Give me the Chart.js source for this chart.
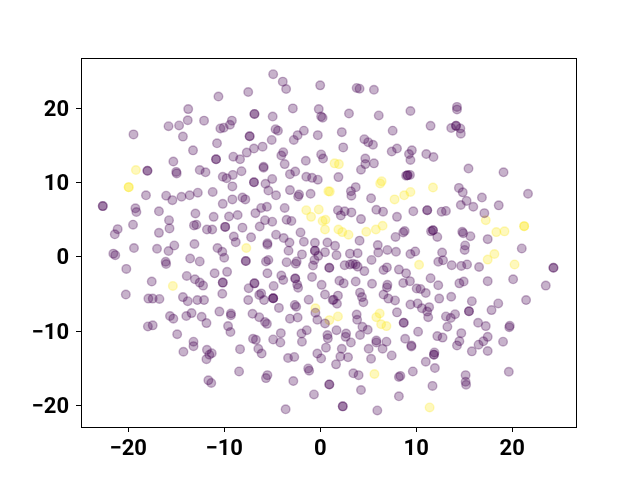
<!DOCTYPE html>
<html><head><meta charset="utf-8">
<style>html,body{margin:0;padding:0;background:#fff}#c{display:block}</style>
<script src="https://cdn.jsdelivr.net/npm/chart.js@4"></script>
</head><body><div style="width:640px;height:480px"><canvas id="c" width="640" height="480"></canvas></div>
<script>
const xTicks=[-20,-10,0,10,20];
const yTicks=[-20,-10,0,10,20];
const purple=[[-4.9,24.6],[-3.9,23.6],[-3.55,22.6],[0,23.1],[-7.5,22.2],[-10.6,21.6],[-13.75,19.9],[-6.85,19.25],[-6.85,19.25],[-2.85,20],[-0.15,19.9],[0.25,18.75],[0.1,18.9],[-4.95,18.9],[-13.8,18.4],[-12.1,18.35],[-15.8,17.6],[-14.7,17.7],[-9.2,18.35],[-9.4,17.8],[-10.05,17.4],[-10.4,17.3],[-4.65,17.2],[-4.4,17],[-1.7,17],[-19.45,16.5],[-14.3,16.2],[-7.35,16.25],[-7.35,16.25],[-2.35,16.4],[-2.75,15.75],[-0.25,16.4],[-5.05,15.75],[-10.75,15.3],[-13.25,14.35],[-6,14.85],[-6.9,14.6],[-7.65,14.05],[-3.85,14.1],[-4.05,13.65],[0.1,13.8],[0.3,13.25],[-9.05,13.5],[-8.35,13.15],[-10.85,13.15],[-10.85,13.15],[-1.5,12.95],[-15.3,12.85],[-3.7,12.5],[-5.9,12],[-5.9,12.15],[-18,11.6],[-18,11.6],[-15,11.45],[-14.95,11.25],[-12.55,11.7],[-11.95,11.4],[-8.2,11.55],[-2.6,11.5],[-3.15,11.15],[-9.1,11.05],[-10.15,10.8],[-9.75,10.6],[-1.45,10.8],[-0.85,10.65],[-0.25,10.4],[-5,10.5],[-6.9,10.05],[-6.9,10.05],[-5.7,9.85],[-9.15,9.5],[-5.4,8.95],[-3.15,9],[-12.75,8.65],[-11.2,8.75],[-13.6,8.3],[-14.45,8.1],[-16.05,8.25],[-15.4,7.65],[-18.15,8.3],[-4.6,8.3],[-2.2,8.4],[-2.3,8.15],[-1,8.5],[-8.1,8],[-7.8,7.75],[-9.15,7.75],[-10.15,7.15],[-22.65,6.85],[-22.65,6.85],[-5.55,6.75],[-6.15,6.6],[-3.7,6.6],[-19.25,6.55],[-19.15,6.05],[-16.8,6.15],[-6.75,5.9],[-8.6,5.65],[-13,5.85],[-9.5,5.45],[-11.1,5.4],[-15.75,4.95],[-5.75,4.95],[-5,4.75],[-3.5,5],[-3,4.85],[-19.5,4.35],[-12.9,4.35],[-13.15,4.25],[-9.9,4.05],[-9.9,4.05],[-6.3,4.1],[-8.1,3.95],[-15.7,3.85],[-11.25,3.7],[-11.8,3.7],[-21.1,3.75],[-21.4,3.05],[-16.8,3.25],[-2.05,3.3],[-4.6,3],[-9,2.75],[-7.2,2.65],[-3.8,2.55],[-8.8,2],[-3.2,1.95],[-5.5,1.65],[-5.5,1.85],[-1.7,2.05],[-0.55,1.9],[0.75,1.95],[-13.1,1.75],[-15.2,1.55],
[-19.4,1.2],[-17,1.1],[-15.8,0.8],[-10.7,1.2],[-10.2,0.7],[-10,-0.1],[-3.3,0.85],[-0.55,0.85],[-0.55,0.85],[-0.2,0.15],[0.5,0.65],[-1.9,0.35],[-21.55,0.45],[-21.35,0.25],[-13.55,-0.2],[-12.55,-0.6],[-16.1,-0.65],[-16.05,-0.95],[-7.75,-0.55],[-7.75,-0.55],[-5.65,-0.6],[-5.4,-0.4],[-3.5,-0.7],[-2.45,-0.6],[-2.55,-0.9],[-0.6,-0.4],[-0.75,-1.15],[0.95,-1.45],[0.95,-1.45],[-20.2,-1.6],[-11,-2.2],[-9.7,-2],[-5.5,-2.2],[-13.9,-2.55],[-4.05,-2.5],[-3.85,-3.1],[-2.6,-2.9],[-2.6,-2.9],[-0.85,-2.7],[-13.05,-3],[-17.55,-3.3],[-12.55,-3.45],[-12.2,-3.85],[-10.15,-3.45],[-10.15,-3.45],[-6.85,-3.55],[-6.85,-3.55],[0.15,-3.75],[-2.4,-3.7],[-2.3,-4.15],[-4.85,-3.9],[-7.45,-4.2],[-20.25,-5.05],[-10.2,-4.95],[-6.15,-4.9],[-6.35,-5.1],[0.5,-5.05],[-17.9,-5.6],[-17.45,-5.6],[-16.75,-5.65],[-14.3,-5.4],[-13.8,-5.95],[-12.8,-5.8],[-12.1,-5.8],[-7.5,-5.8],[-5.85,-5.8],[-4.9,-5.55],[-4.9,-5.55],[-4.9,-5.55],[-1.2,-5.75],[1.3,-5.8],[-2.65,-6.45],[-2.5,-6.7],[-4.3,-6.85],[-0.5,-7.5],[-0.3,-8.45],[-10.5,-7.35],[-13.4,-7.55],[-13.95,-7.95],[-15.65,-7.95],[-15.3,-8.3],[-12.35,-8.05],[-11.85,-8.9],[-9.3,-7.6],[-9.3,-7.85],[-7.05,-7.65],[-6.35,-8.1],[-5.75,-8.75],[-5.55,-9],[-3.15,-8.3],[-2.35,-8.15],[0.5,-8.95],[-17.45,-9.2],[-17.95,-9.35],[-9.6,-9.3],[-9.35,-10.1],[-14.9,-10.4],[-1.4,-9.85],[-1.95,-10.3],[-4.1,-10.25],[0.75,-10.5],[0.8,-10.95],[-7,-11],[-6.7,-11.15],[-4.9,-11.1],[-4.15,-11.5],[-1.9,-11.4],[-13.2,-11.4],[-13.2,-12],[0.6,-12.2],[-8.35,-12.4],[-6.45,-12.35],[-6.1,-13],[-14.25,-12.75],[-11.8,-12.5],[-11.3,-12.95],[-11.55,-13.15],[-11.85,-13.75],[-0.3,-13],[0.1,-13.65],[-2.7,-13.45],[-3.35,-13.6],[-1.25,-15],[-1.15,-15.3],[-8.45,-15.4],[-5.5,-15.9],[-5.65,-16.3],[-2.8,-16.7],[-11.65,-16.6],[-11.35,-16.95],[0.95,-17.15],[0.95,-17.15],[-0.65,-18.5],[-3.6,-20.5],
[3.8,22.75],[4.1,22.65],[5.6,22.5],[14.25,20.2],[14.25,19.85],[9.4,19.65],[3,19.3],[6.1,19.05],[11.5,17.65],[14.15,17.65],[14.15,17.65],[13.65,17.35],[14.6,17.3],[14.65,16.6],[7.55,17],[2.25,16.8],[4.6,15.85],[5,15.45],[5.5,15.1],[2.4,14.75],[8,14.6],[7.45,14.2],[9.55,14.35],[9.25,13.85],[11.05,13.85],[11.8,13.45],[9.4,13.05],[4.7,13.25],[4.7,12.5],[5.6,12.6],[4.25,11.75],[15.45,11.9],[19.1,11.4],[9.1,11],[9.1,11],[9.35,11.05],[8.95,10.95],[1.9,10.75],[14.45,9.3],[14.85,8.7],[3.7,9.4],[3.2,8.85],[3.25,8.25],[21.65,8.5],[5.3,7.9],[16.85,8],[15.25,7.55],[14.65,7],[15.95,6.75],[18.6,6.95],[17.1,5.9],[1.85,6.3],[2.55,6.15],[2.15,5.6],[3.25,6],[5.85,6.35],[6.55,6.1],[8,5.4],[9.7,6.15],[11.15,6.3],[11.15,6.3],[12.65,6.1],[13.1,6.2],[4.25,5.1],[8.8,3.5],[8.65,3.3],[7.85,2.7],[11.75,3.6],[11.75,3.6],[11.55,3.45],[12.2,2.7],[14.8,3.4],[14.9,3.2],[15.65,2.8],[17.45,2.4],[4.1,2.2],[1.55,1.5],[6,1.6],[15.1,1.55],
[15.05,0.95],[21,1.15],[7,0.95],[6.05,0.6],[7.9,0.7],[9.9,0.75],[9.4,0.4],[3.1,0.45],[3.9,0.5],[1.7,0.25],[12.7,0.6],[5.35,-0.4],[12.3,-0.65],[12.8,-0.45],[2.55,-1.1],[3.1,-1],[3.4,-0.9],[3.7,-1],[3.9,-1.3],[4.6,-1.9],[6.95,-1.4],[6.6,-1.75],[8.2,-1.7],[8.95,-2.2],[13.7,-1.1],[14.7,-1.2],[15.3,-1],[16.55,-1.35],[24.3,-1.45],[24.3,-1.45],[23.5,-3.85],[20.1,-3],[21.45,-5.8],[17.45,-3.25],[11.5,-2.85],[12.3,-3.8],[14.5,-3.55],[14.95,-3.3],[2,-3.2],[2.45,-3.55],[3.7,-3.3],[5.4,-3.6],[7,-3.75],[6.95,-4.1],[8.65,-3.5],[9.35,-3.25],[10.05,-4.25],[10.45,-4.3],[11,-4.85],[4.15,-4.8],[4.35,-5.4],[4.5,-6.1],[6.6,-5.05],[7.1,-5.6],[7.8,-5.85],[12.4,-5.6],[13.65,-5.35],[15.8,-5.95],[18.55,-6.25],[1.85,-5.2],[1.4,-5.75],[1.75,-6.3],[9.4,-6.4],[10.15,-6.25],[10.6,-6.9],[11.35,-6.75],[11.15,-7.35],[11.25,-8.1],[8,-7.45],[15.5,-7.3],[15.5,-7.3],[17.85,-7.15],[14.05,-7.7],[13.6,-8.2],[13.1,-8],[8.7,-8.85],[8.7,-8.85],[16.45,-8.85],[17.25,-9.3],[19.75,-9.25],[19.7,-9.45],[13.25,-9.4],[14.7,-10.25],[3.8,-7.75],[3.85,-8.45],[4.4,-9.4],[4.95,-9.8],[4.15,-10.5],[1.7,-9.85],[2.7,-10.3],[2.65,-10.75],[3.2,-11.5],[10.2,-10.05],[8.85,-11],[12.2,-10.65],[12.75,-10.85],[9.5,-11.9],[9.5,-12.05],[5.85,-11.25],[5.85,-11.5],[6.9,-11.4],[5.05,-12.35],[6.5,-12.35],[7.45,-13.25],[2.25,-12.35],[2.1,-13.4],[2.9,-13.5],[1.65,-14.45],[5.3,-13.7],[14.5,-11.35],[14.25,-11.9],[17.45,-10.75],[17,-11.35],[16.5,-11.8],[19.05,-11.4],[17.45,-12.65],[15.8,-12.7],[11.9,-12.85],[11.85,-13.15],[11.85,-13.15],[11,-14.1],[11.95,-14.95],[9.65,-15.4],[3.45,-15.65],[4,-15.9],[8.35,-16],[8.2,-16.15],[15.15,-15.9],[15.15,-16.8],[15.2,-17.2],[19.65,-15.45],[4.25,-17.9],[11.7,-17.35],[8.2,-18.75],[2.35,-20.1],[2.35,-20.1],[5.95,-20.65]];
const yellow=[[-19.2,11.7],[-19.95,9.4],[-19.95,9.4],[0.85,8.85],[1,8.8],[-1.45,6.3],[-0.15,6.4],[-0.95,5.4],[0.25,4.85],[0.55,5],[0.5,3.7],[-7.7,1.2],[-15.35,-3.9],[-0.5,-6.9],[0.95,-8.5],[1.5,12.6],[1.95,12.5],[6.4,10.2],[6.25,9.9],[11.75,9.35],[9.4,8.75],[8.75,8.3],[7.75,7.75],[17.25,4.95],[1.9,3.7],[2.3,3.35],[2.95,3],[4.8,3.4],[5.8,3.7],[6.5,4.2],[18.35,3.35],[19.2,3.45],[21.25,4.15],[21.25,4.15],[18.15,0.4],[17.45,-0.35],[20.25,-1],[10.3,-1.05],[1.85,-8],[6.2,-7.6],[5.85,-8.1],[6.35,-9.05],[6.9,-9.3],[5.65,-15.75],[11.4,-20.25]];
const toPoints=a=>a.map(p=>({x:p[0],y:p[1]}));
const frame={id:'frame',afterDatasetsDraw(ch){const a=ch.chartArea,c=ch.ctx;c.save();c.strokeStyle='#000';c.lineWidth=1;c.strokeRect(Math.round(a.left)+.5,Math.round(a.top)+.5,Math.round(a.right-a.left),Math.round(a.bottom-a.top));c.restore();}};
const fmt=v=>String(v).replace('-','\u2212');
const tickFont={family:'Roboto',size:22,weight:'bold'};
new Chart(document.getElementById('c'),{type:'scatter',
 data:{datasets:[
  {data:toPoints(purple),backgroundColor:'rgba(68,1,84,0.3)',borderColor:'rgba(68,1,84,0.3)',borderWidth:1.4,pointRadius:4.3},
  {data:toPoints(yellow),backgroundColor:'rgba(253,231,37,0.3)',borderColor:'rgba(253,231,37,0.3)',borderWidth:1.4,pointRadius:4.3}
 ]},
 options:{responsive:false,animation:false,
  layout:{padding:{top:58,right:64,left:0,bottom:0}},
  plugins:{legend:{display:false},tooltip:{enabled:false}},
  scales:{
   x:{type:'linear',min:-24.92,max:26.65,afterFit:s=>{s.height=53},
      afterBuildTicks:s=>{s.ticks=xTicks.map(v=>({value:v}))},
      grid:{drawOnChartArea:false,drawTicks:true,tickLength:5,tickColor:'#000',tickWidth:1},
      border:{display:false},
      ticks:{color:'#000',font:tickFont,padding:4,maxRotation:0,callback:fmt}},
   y:{type:'linear',min:-22.88,max:26.78,afterFit:s=>{s.width=81},
      afterBuildTicks:s=>{s.ticks=yTicks.map(v=>({value:v}))},
      grid:{drawOnChartArea:false,drawTicks:true,tickLength:5,tickColor:'#000',tickWidth:1},
      border:{display:false},
      ticks:{color:'#000',font:tickFont,padding:7,labelOffset:2,callback:fmt}}
  }},
 plugins:[frame]});
</script></body></html>
